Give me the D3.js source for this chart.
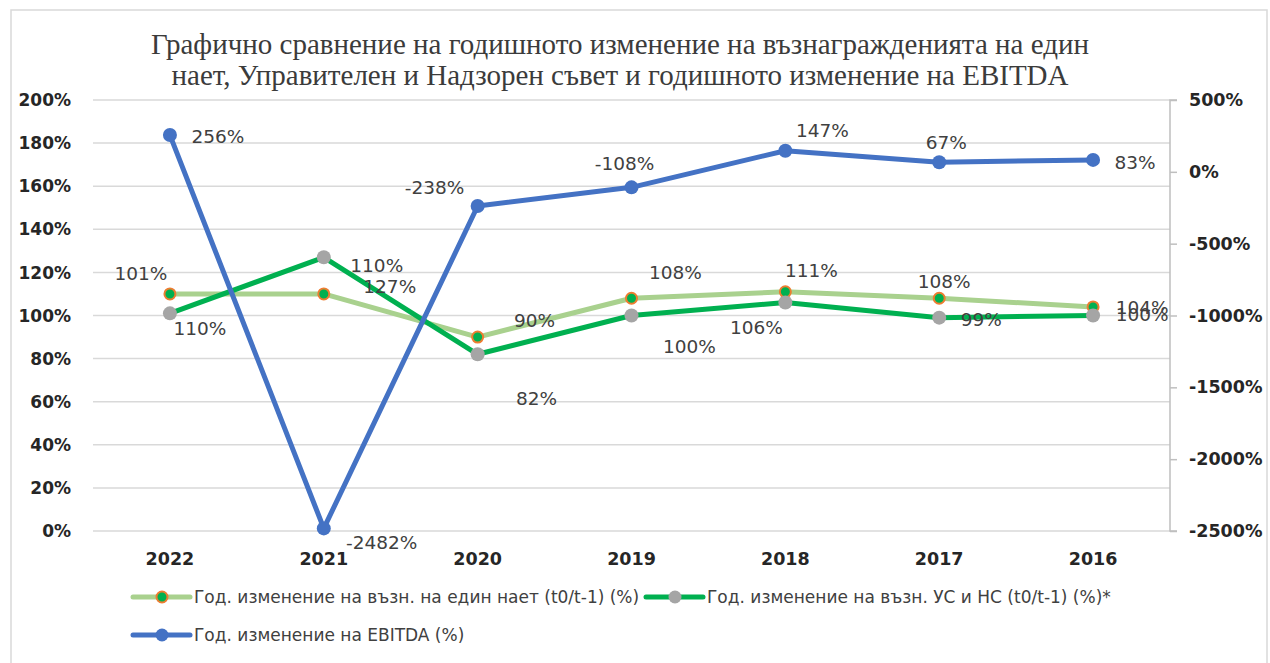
<!DOCTYPE html>
<html lang="bg">
<head>
<meta charset="utf-8">
<title>Годишно изменение</title>
<script src="https://d3js.org/d3.v7.min.js"></script>
<style>
  body { margin: 0; background: #fff; }
  text { font-family: "DejaVu Sans", sans-serif; }
</style>
</head>
<body>
<div id="chart"></div>
<script>
  // data
  var years = ["2022", "2021", "2020", "2019", "2018", "2017", "2016"];
  var perEmployee = [110, 110, 90, 108, 111, 108, 104];   // light green, left axis
  var boards = [101, 127, 82, 100, 106, 99, 100];          // dark green, left axis
  var ebitda = [256, -2482, -238, -108, 147, 67, 83];      // blue, right axis
  var leftTicks = [0, 20, 40, 60, 80, 100, 120, 140, 160, 180, 200];
  var rightTicks = [500, 0, -500, -1000, -1500, -2000, -2500];
  var legendNames = [
    "Год. изменение на възн. на един нает (t0/t-1) (%)",
    "Год. изменение на възн. УС и НС (t0/t-1) (%)*",
    "Год. изменение на EBITDA (%)"
  ];
  var titleLines = [
    "Графично сравнение на годишното изменение на възнагражденията на един",
    "нает, Управителен и Надзорен съвет и годишното изменение на EBITDA"
  ];

  // label offsets (px) as Excel placed them
  var offPerEmployee = [[30, 34], [53, -29], [57, -17], [44, -26], [26, -21], [5, -17], [49, 0]];
  var offBoards = [[-29, -40], [66, 29], [59, 44], [58, 31], [-29, 25], [42, 2], [49, -1]];
  var offEbitda = [[48, 1], [58, 14], [-43, -19], [-7, -24], [37, -20], [7, -20], [42, 2]];

  var W = 1270, H = 663;
  var plot = { left: 93, right: 1170, top: 100, bottom: 531 };

  var svg = d3.select("#chart").append("svg")
    .attr("width", W).attr("height", H);

  // chart border
  svg.append("rect")
    .attr("x", 11).attr("y", 10).attr("width", 1256).attr("height", 670)
    .attr("fill", "#fff").attr("stroke", "#d9d9d9").attr("stroke-width", 1.5);

  var x = d3.scaleBand().domain(years).range([plot.left, plot.right]);
  var yL = d3.scaleLinear().domain([0, 200]).range([plot.bottom, plot.top]);
  var yR = d3.scaleLinear().domain([-2500, 500]).range([plot.bottom, plot.top]);
  var cx = function (i) { return x(years[i]) + x.bandwidth() / 2; };

  // title
  svg.append("g").selectAll("text").data(titleLines).enter().append("text")
    .attr("x", 620).attr("y", function (d, i) { return 54 + i * 31; })
    .attr("text-anchor", "middle")
    .style("font-family", "'Liberation Serif', serif")
    .style("font-size", "29px").attr("fill", "#3b3b3b")
    .text(function (d) { return d; });

  // gridlines + left axis labels
  svg.append("g").selectAll("line").data(leftTicks).enter().append("line")
    .attr("x1", plot.left).attr("x2", plot.right)
    .attr("y1", function (d) { return yL(d); }).attr("y2", function (d) { return yL(d); })
    .attr("stroke", "#d9d9d9").attr("stroke-width", 1.5);

  svg.append("g").selectAll("text").data(leftTicks).enter().append("text")
    .attr("x", 71).attr("y", function (d) { return yL(d); })
    .attr("dy", "0.36em").attr("text-anchor", "end")
    .style("font-size", "17px").style("font-weight", "bold").attr("fill", "#262626")
    .text(function (d) { return d + "%"; });

  // right axis
  var rAxis = svg.append("g")
    .attr("transform", "translate(" + plot.right + ",0)")
    .call(d3.axisRight(yR).tickValues(rightTicks).tickSize(7).tickPadding(12)
      .tickFormat(function (d) { return d + "%"; }));
  rAxis.select(".domain").attr("stroke", "#bfbfbf").attr("stroke-width", 1.5)
    .attr("d", "M7," + plot.top + "H0V" + plot.bottom + "H7");
  rAxis.selectAll(".tick line").attr("stroke", "#bfbfbf").attr("stroke-width", 1.5);
  rAxis.selectAll(".tick text")
    .style("font-family", "'DejaVu Sans', sans-serif")
    .style("font-size", "17.5px").style("font-weight", "bold").attr("fill", "#262626");

  // x labels
  svg.append("g").selectAll("text").data(years).enter().append("text")
    .attr("x", function (d, i) { return cx(i); }).attr("y", 559)
    .attr("dy", "0.36em").attr("text-anchor", "middle")
    .style("font-size", "17.5px").style("font-weight", "bold").attr("fill", "#262626")
    .text(function (d) { return d; });

  function drawSeries(vals, yScale, color, width) {
    var line = d3.line()
      .x(function (d, i) { return cx(i); })
      .y(function (d) { return yScale(d); });
    svg.append("path").datum(vals)
      .attr("d", line).attr("fill", "none")
      .attr("stroke", color).attr("stroke-width", width)
      .attr("stroke-linejoin", "round").attr("stroke-linecap", "round");
  }

  function drawMarkers(vals, yScale, fill, stroke, r) {
    svg.append("g").selectAll("circle").data(vals).enter().append("circle")
      .attr("cx", function (d, i) { return cx(i); })
      .attr("cy", function (d) { return yScale(d); })
      .attr("r", r).attr("fill", fill)
      .attr("stroke", stroke || "none").attr("stroke-width", 2);
  }

  function drawLabels(vals, yScale, offs) {
    svg.append("g").selectAll("text").data(vals).enter().append("text")
      .attr("x", function (d, i) { return cx(i) + offs[i][0]; })
      .attr("y", function (d, i) { return yScale(d) + offs[i][1]; })
      .attr("dy", "0.36em").attr("text-anchor", "middle")
      .style("font-size", "18.5px").attr("fill", "#404040")
      .text(function (d) { return d + "%"; });
  }

  drawSeries(perEmployee, yL, "#a9d18e", 5);
  drawSeries(boards, yL, "#00b050", 5);
  drawSeries(ebitda, yR, "#4472c4", 5);
  drawMarkers(perEmployee, yL, "#00b050", "#ed7d31", 5.5);
  drawMarkers(boards, yL, "#a5a5a5", null, 7);
  drawMarkers(ebitda, yR, "#4472c4", null, 7);

  drawLabels(perEmployee, yL, offPerEmployee);
  drawLabels(boards, yL, offBoards);
  drawLabels(ebitda, yR, offEbitda);

  // legend
  var legendItems = [
    { name: legendNames[0], line: "#a9d18e", fill: "#00b050", stroke: "#ed7d31", r: 5.5, x: 133, y: 597 },
    { name: legendNames[1], line: "#00b050", fill: "#a5a5a5", stroke: null, r: 6.5, x: 646, y: 597 },
    { name: legendNames[2], line: "#4472c4", fill: "#4472c4", stroke: null, r: 6.5, x: 133, y: 635 }
  ];
  var lg = svg.append("g").selectAll("g").data(legendItems).enter().append("g")
    .attr("transform", function (d) { return "translate(" + d.x + "," + d.y + ")"; });
  lg.append("line").attr("x1", 0).attr("x2", 57)
    .attr("stroke", function (d) { return d.line; }).attr("stroke-width", 5)
    .attr("stroke-linecap", "round");
  lg.append("circle").attr("cx", 29).attr("r", function (d) { return d.r; })
    .attr("fill", function (d) { return d.fill; })
    .attr("stroke", function (d) { return d.stroke || "none"; }).attr("stroke-width", 2);
  lg.append("text").attr("x", 61).attr("dy", "0.36em")
    .style("font-size", "17px").attr("fill", "#404040")
    .text(function (d) { return d.name; });
</script>
</body>
</html>
